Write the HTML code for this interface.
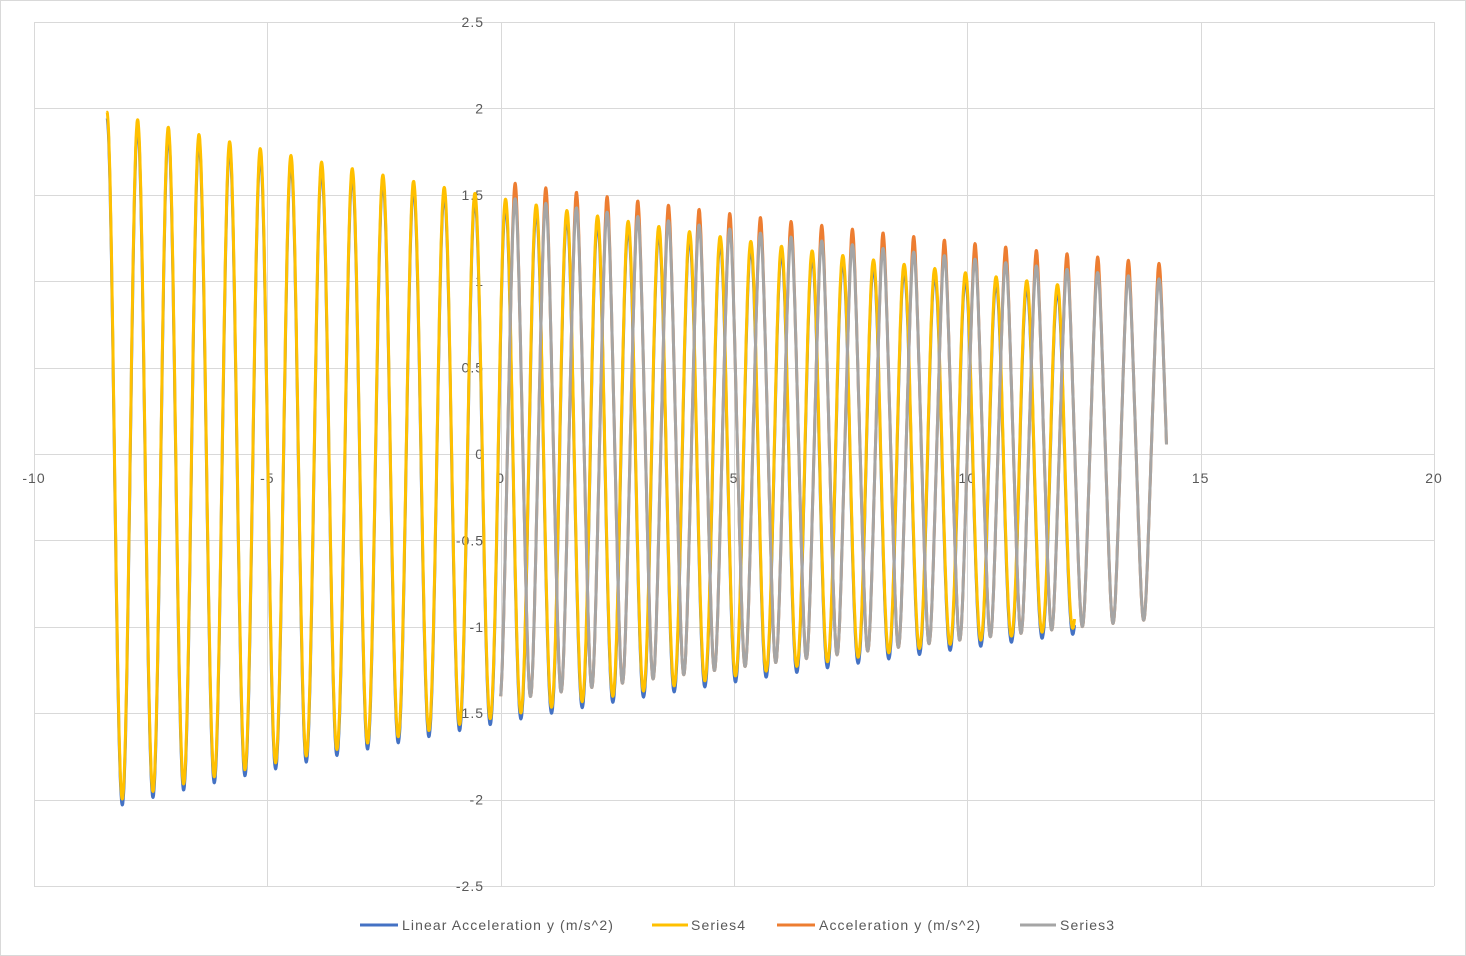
<!DOCTYPE html>
<html><head><meta charset="utf-8"><style>
html,body{margin:0;padding:0;background:#fff;}
svg{display:block;font-family:"Liberation Sans",sans-serif;}
</style></head><body>
<svg id="c" width="1466" height="956" xmlns="http://www.w3.org/2000/svg">
<rect x="0.5" y="0.5" width="1465" height="955" fill="#fff" stroke="#d9d9d9"/>
<g id="grid" stroke="#d9d9d9" stroke-width="1"></g>
<g id="labels" fill="#595959" font-size="14" letter-spacing="1"></g>
<g id="series" fill="none" stroke-linejoin="round"></g>
<g font-size="14" fill="#595959" letter-spacing="1.1">
<line x1="360" y1="925" x2="398" y2="925" stroke="#4472c4" stroke-width="3"/>
<text x="402" y="930">Linear Acceleration y (m/s^2)</text>
<line x1="652" y1="925" x2="688" y2="925" stroke="#ffc000" stroke-width="3"/>
<text x="691" y="930">Series4</text>
<line x1="777" y1="925" x2="815" y2="925" stroke="#ed7d31" stroke-width="3"/>
<text x="819" y="930">Acceleration y (m/s^2)</text>
<line x1="1020" y1="925" x2="1056" y2="925" stroke="#a5a5a5" stroke-width="3"/>
<text x="1060" y="930">Series3</text>
</g>
</svg>
<script>
var NS="http://www.w3.org/2000/svg";
function X(x){return 500.67+x*46.667;}
function Y(y){return 454-y*172.8;}
var g=document.getElementById('grid'),lb=document.getElementById('labels');
function el(p,t,a,txt){var e=document.createElementNS(NS,t);for(var k in a)e.setAttribute(k,a[k]);if(txt!=null)e.textContent=txt;p.appendChild(e);return e;}
for(var i=-10;i<=20;i+=5){var px=Math.round(X(i))+0.5;el(g,'line',{x1:px,y1:22,x2:px,y2:886});}
for(var v=-2.5;v<=2.51;v+=0.5){var py=Math.round(Y(v))+0.5;el(g,'line',{x1:34,y1:py,x2:1434,y2:py});}
for(var i=-10;i<=20;i+=5){el(lb,'text',{x:X(i),y:483,'text-anchor':'middle'},String(i));}
for(var v=-2.5;v<=2.51;v+=0.5){var s=(Math.round(v*10)/10).toString();el(lb,'text',{x:484,y:Y(v)+5,'text-anchor':'end'},s);}
var P=0.657;
function path(x0,x1,f,col,w){var d='';for(var x=x0;x<=x1;x+=0.006){d+=(d?'L':'M')+X(x).toFixed(1)+','+Y(f(x)).toFixed(1);}
el(document.getElementById('series'),'path',{d:d,stroke:col,'stroke-width':w});}
var ph=-8.436;
function yel(x){var A=1.5*Math.exp(-0.034*x);var t=2*Math.PI*(x-ph)/P;return -0.05+A*Math.cos(t)+0.03*Math.cos(2*t);}
function gry(x){var A=1.42*Math.exp(-0.029*x);var t=2*Math.PI*(x-0.31)/P;return 0.03+A*Math.cos(t)+0.04*Math.cos(3*t);}
function org(x){var A=1.42*Math.exp(-0.029*x);var t=2*Math.PI*(x-0.31)/P;var c=Math.cos(t);return 0.03+A*c+0.04*Math.cos(3*t)+0.09*Math.pow(Math.max(c,0),8);}
path(-8.44,12.3,function(x){return yel(x)-0.035;},'#4472c4',3);
path(-8.44,12.3,yel,'#ffc000',3);
path(0.0,14.27,org,'#ed7d31',3);
path(0.0,14.27,gry,'#a5a5a5',3);
</script>
</body></html>
